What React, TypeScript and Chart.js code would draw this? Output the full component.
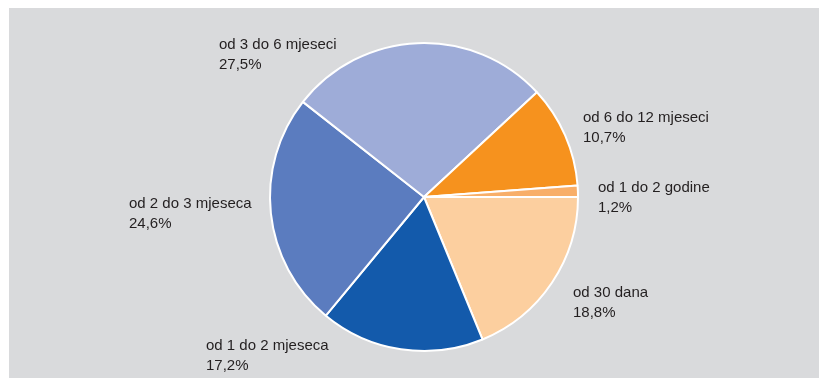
import React, { useEffect, useRef } from "react";
import { Chart, registerables } from "chart.js";

Chart.register(...registerables);

const categories = [
  "od 30 dana",
  "od 1 do 2 mjeseca",
  "od 2 do 3 mjeseca",
  "od 3 do 6 mjeseci",
  "od 6 do 12 mjeseci",
  "od 1 do 2 godine",
];
const shares = [18.8, 17.2, 24.6, 27.5, 10.7, 1.2];
const percentLabels = ["18,8%", "17,2%", "24,6%", "27,5%", "10,7%", "1,2%"];
const sliceColors = ["#fccf9f", "#135aab", "#5b7cbf", "#9eacd8", "#f6921e", "#f8ae68"];
// label anchor offsets (left x, first baseline) relative to pie centre
const labelOffsets: [number, number][] = [
  [149, 100],
  [-218, 153],
  [-295, 11],
  [-205, -148],
  [159, -75],
  [174, -5],
];

const labelPlugin = {
  id: "sliceLabels",
  afterDatasetsDraw(chart: any) {
    const ctx = chart.ctx;
    const meta = chart.getDatasetMeta(0);
    ctx.save();
    ctx.font = '15px "Liberation Sans", Arial, sans-serif';
    ctx.fillStyle = "#231f20";
    ctx.textAlign = "left";
    ctx.textBaseline = "alphabetic";
    meta.data.forEach((arc: any, i: number) => {
      const [dx, dy] = labelOffsets[i];
      const x = arc.x + dx;
      const y = arc.y + dy;
      ctx.fillText(categories[i], x, y);
      ctx.fillText(percentLabels[i], x, y + 20);
    });
    ctx.restore();
  },
};

export default function App() {
  const ref = useRef<HTMLCanvasElement>(null);
  useEffect(() => {
    if (!ref.current) return;
    const chart = new Chart(ref.current, {
      type: "pie",
      data: {
        labels: categories,
        datasets: [
          {
            data: shares,
            backgroundColor: sliceColors,
            borderColor: "#ffffff",
            borderWidth: 2,
          },
        ],
      },
      options: {
        responsive: false,
        animation: false,
        rotation: 90,
        layout: { padding: { left: 260, right: 240, top: 34, bottom: 26 } },
        plugins: {
          legend: { display: false },
          tooltip: { enabled: false },
        },
      },
      plugins: [labelPlugin],
    });
    return () => chart.destroy();
  }, []);
  return (
    <div
      style={{
        position: "fixed",
        left: 9,
        top: 8,
        right: 0,
        bottom: 0,
        background: "#d9dadc",
        overflow: "hidden",
      }}
    >
      <canvas ref={ref} width={810} height={370} style={{ display: "block" }} />
    </div>
  );
}
